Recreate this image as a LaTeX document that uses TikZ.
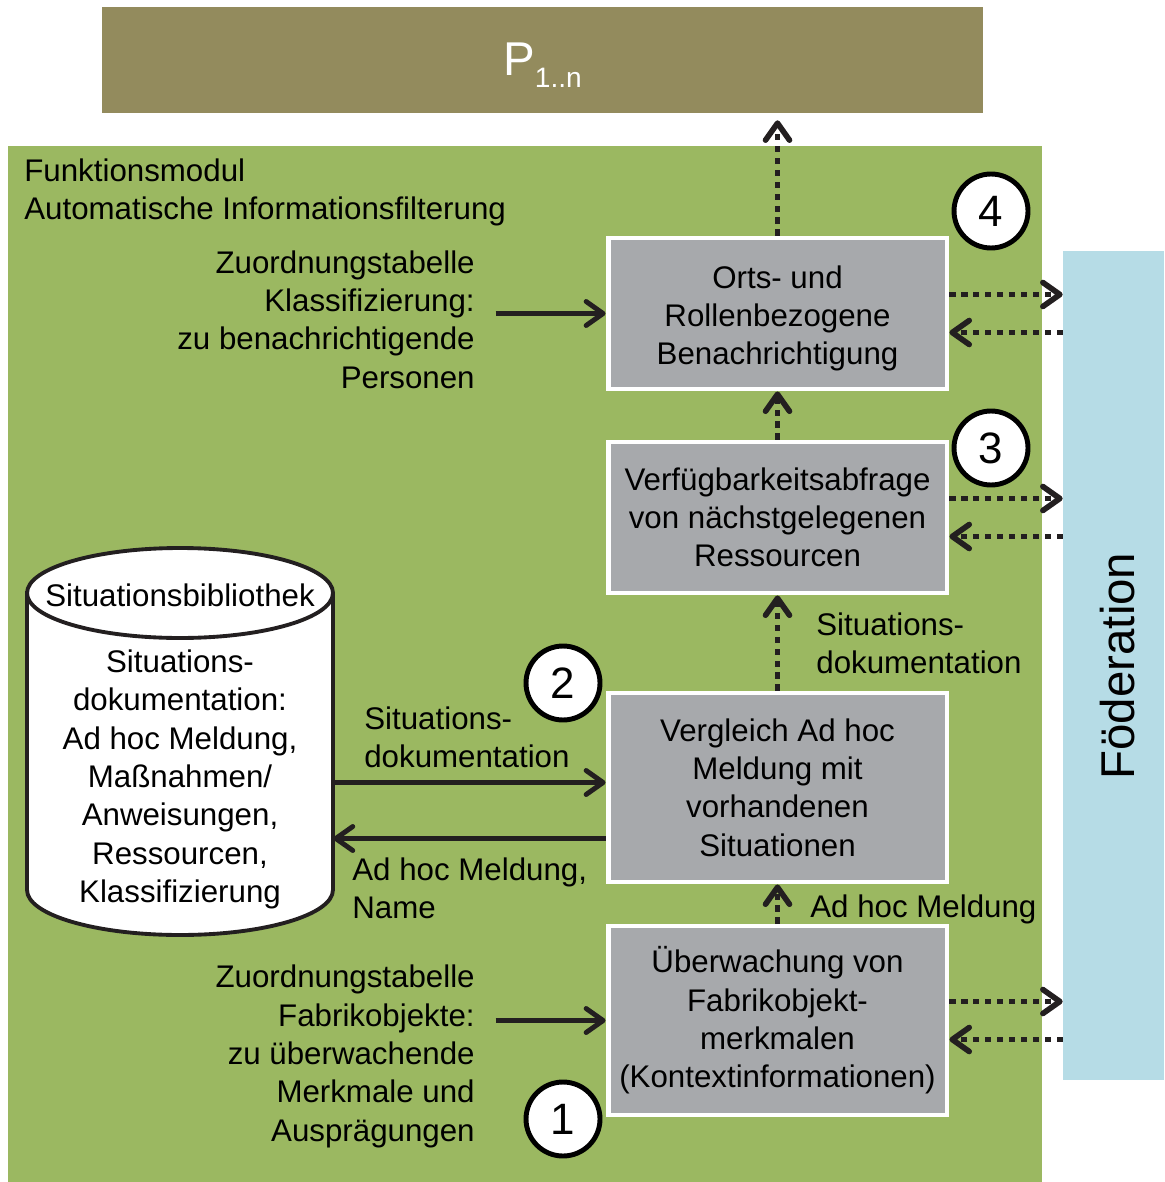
\documentclass[tikz,border=0pt]{standalone}
\usepackage{fontspec}
\setmainfont{Liberation Sans}
\usetikzlibrary{arrows.meta,calc}

\definecolor{modOlive}{HTML}{938B5D}
\definecolor{modGreen}{HTML}{9BB861}
\definecolor{fedBlue}{HTML}{B6DCE6}
\definecolor{boxGray}{HTML}{A7A9AC}
\definecolor{lineDark}{HTML}{231F20}

\begin{document}
\begin{tikzpicture}[x=0.02cm, y=-0.02cm,
  font=\fontsize{17.8}{21.8}\selectfont,
  box/.style={draw=white, line width=2.8pt, fill=boxGray, align=center,
    minimum width=6.78cm, minimum height=3.02cm, inner sep=0},
  bigbox/.style={box, minimum height=3.78cm},
  num/.style={circle, draw=black, line width=2.8pt, fill=white,
    minimum size=1.48cm, inner sep=0, font=\fontsize{25}{28}\selectfont},
  lbl/.style={inner sep=0, align=left, anchor=west},
  lblr/.style={inner sep=0, align=right, anchor=east},
  arr/.style={draw=lineDark, line width=2.8pt,
    -{Straight Barb[round, length=3.4mm, width=4.8mm]}},
  dotarr/.style={arr, line width=3.2pt, dash pattern=on 3.5pt off 3.3pt}]

\useasboundingbox (0,0) rectangle (1164,1182);

% Prozesse oben
\node[fill=modOlive, minimum width=17.62cm, minimum height=2.12cm, inner sep=0,
  text=white, font=\fontsize{27}{30}\selectfont] (pBox) at (542.5,60)
  {\rule{0pt}{25pt}P\raisebox{-6.8pt}{\fontsize{16}{18}\selectfont 1..n}};

% Funktionsmodul
\fill[modGreen] (8,146) rectangle (1042,1182);
\node[lbl] (modul) at (24,192.5) {Funktionsmodul\\Automatische Informationsfilterung};

% Foederation
\node[fill=fedBlue, minimum width=2.02cm, minimum height=16.58cm, inner sep=0] (fed) at (1113.5,665.5) {};
\node[rotate=90, inner sep=0, font=\fontsize{27}{30}\selectfont] (fedText) at (1118,666) {Föderation};

% Schritte
\node[box] (notify) at (777.5,313.5) {\rule{0pt}{18.5pt}Orts- und\\Rollenbezogene\\Benachrichtigung};
\node[box] (avail) at (777.5,517.5) {Verfügbarkeitsabfrage\\von nächstgelegenen\\Ressourcen};
\node[bigbox] (compare) at (777.5,787.5) {Vergleich Ad hoc\\Meldung mit\\vorhandenen\\Situationen};
\node[bigbox] (monitor) at (777.5,1020.5) {Überwachung von\\Fabrikobjekt-\\merkmalen\\(Kontextinformationen)};

% Situationsbibliothek (Zylinder)
\node[minimum width=6.12cm, minimum height=7.74cm, inner sep=0] (lib) at (180,741.5) {};
\filldraw[fill=white, draw=lineDark, line width=2.2pt] (27,593) -- (27,890)
  arc[start angle=180, end angle=360, x radius=3.06cm, y radius=0.9cm] -- (333,593)
  arc[start angle=0, end angle=180, x radius=3.06cm, y radius=0.9cm] -- cycle;
\draw[lineDark, line width=2.2pt] (27,593) arc[start angle=180, end angle=360, x radius=3.06cm, y radius=0.9cm];
\node[inner sep=0] (libTitle) at (180,595) {Situationsbibliothek};
\node[inner sep=0, align=center] (libText) at (180,779.5) {Situations-\\dokumentation:\\Ad hoc Meldung,\\Maßnahmen/\\Anweisungen,\\Ressourcen,\\Klassifizierung};

% Beschriftungen
\node[lblr] (klass) at (475,319.5) {Zuordnungstabelle\\Klassifizierung:\\zu benachrichtigende\\Personen};
\node[lblr] (fabrik) at (475,1056.5) {Zuordnungstabelle\\Fabrikobjekte:\\zu überwachende\\Merkmale und\\Ausprägungen};
\node[lbl] (sdLeft) at (364,737) {Situations-\\dokumentation};
\node[lbl] (meldName) at (352,888) {Ad hoc Meldung,\\Name};
\node[lbl] (sdRight) at (816,643) {Situations-\\dokumentation};
\node[lbl] (meld) at (810,909) {Ad hoc Meldung};

% Pfeile zwischen den Schritten
\draw[dotarr, shorten >=0.14cm] (notify.north) -- (notify.north |- pBox.south);
\draw[dotarr] (avail.north) -- (notify.south);
\draw[dotarr] (compare.north) -- (avail.south);
\draw[dotarr] (monitor.north) -- (compare.south);

% Pfeile zur Foederation
\draw[dotarr] (notify.east) ++(0,-19) coordinate (n4o) -- (n4o -| fed.west);
\draw[dotarr] (fed.west |- notify.east) ++(0,19) coordinate (n4i) -- (n4i -| notify.east);
\draw[dotarr] (avail.east) ++(0,-19) coordinate (n3o) -- (n3o -| fed.west);
\draw[dotarr] (fed.west |- avail.east) ++(0,19) coordinate (n3i) -- (n3i -| avail.east);
\draw[dotarr] (monitor.east) ++(0,-19) coordinate (n1o) -- (n1o -| fed.west);
\draw[dotarr] (fed.west |- monitor.east) ++(0,19) coordinate (n1i) -- (n1i -| monitor.east);

% Eingaenge links
\draw[arr] ([xshift=-2.2cm]notify.west) -- (notify.west);
\draw[arr] ([xshift=-2.2cm]monitor.west) -- (monitor.west);
\draw[arr] (compare.west) ++(0,-5) coordinate (s1) (s1 -| lib.east) -- (s1);
\draw[arr] (compare.west) ++(0,51) coordinate (s2) -- (s2 -| lib.east);

% Nummern
\node[num] (c4) at (991,211) {4};
\node[num] (c3) at (991,448) {3};
\node[num] (c2) at (563,683) {2};
\node[num] (c1) at (563,1119) {1};

\end{tikzpicture}
\end{document}
